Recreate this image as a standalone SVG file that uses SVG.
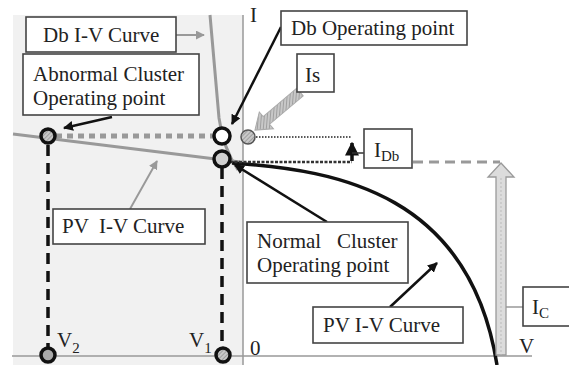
<svg xmlns="http://www.w3.org/2000/svg" width="569" height="365" viewBox="0 0 569 365">
<defs>
<pattern id="hatch" patternUnits="userSpaceOnUse" width="3" height="3" patternTransform="rotate(45)">
<rect width="3" height="3" fill="#c8c8c8"/>
<line x1="0" y1="0" x2="0" y2="3" stroke="#777" stroke-width="1"/>
</pattern>
<marker id="ah" viewBox="0 0 10 10" refX="9" refY="5" markerWidth="4" markerHeight="4" orient="auto" markerUnits="strokeWidth">
<path d="M0,0 L10,5 L0,10 z" fill="#111"/>
</marker>
<marker id="ahg" viewBox="0 0 10 10" refX="9" refY="5" markerWidth="4.5" markerHeight="4.5" orient="auto" markerUnits="strokeWidth">
<path d="M0,0 L10,5 L0,10 z" fill="#999"/>
</marker>
</defs>
<style>
text{font-family:"Liberation Serif","Times New Roman",serif;font-size:21px;fill:#222}
.box{fill:#fff;stroke:#444;stroke-width:1.6}
.lbl{fill:none;stroke:#111;stroke-width:2.5}
.gl{fill:none;stroke:#999;stroke-width:2}
.vd{fill:none;stroke:#111;stroke-width:3.5;stroke-dasharray:11,7}
</style>
<rect x="0" y="0" width="569" height="365" fill="#fff"/>
<rect x="13" y="15" width="230" height="350" fill="#f1f1f1"/>
<g id="axes">
<line x1="243" y1="15" x2="243" y2="365" stroke="#999" stroke-width="1.5"/>
<line x1="12" y1="356" x2="532" y2="356" stroke="#999" stroke-width="1.5"/>
<text x="250" y="22">I</text>
<text x="250" y="355">0</text>
<text x="519" y="353">V</text>
<text x="57" y="347">V<tspan font-size="15" dy="6">2</tspan></text>
<text x="189" y="347">V<tspan font-size="15" dy="6">1</tspan></text>
</g>
<g id="connectors">
<path d="M210,15 L219,118 Q223,148 238,170" stroke="#999" stroke-width="3" fill="none"/>
<line x1="13" y1="134" x2="240" y2="162" stroke="#999" stroke-width="3"/>
<path d="M232,163 C340,170 470,195 497,365" stroke="#111" stroke-width="3.5" fill="none"/>
<line x1="56" y1="136" x2="214" y2="136" stroke="#999" stroke-width="5" stroke-dasharray="6,5"/>
<line x1="48" y1="145" x2="48" y2="348" class="vd"/>
<line x1="222" y1="168" x2="222" y2="348" class="vd"/>
<line x1="256" y1="137" x2="352" y2="137" stroke="#222" stroke-width="1.5" stroke-dasharray="1.5,1.5"/>
<line x1="230" y1="162" x2="352" y2="162" stroke="#333" stroke-width="2.5" stroke-dasharray="3,1.5"/>
<line x1="413" y1="162" x2="500" y2="162" stroke="#999" stroke-width="3" stroke-dasharray="10,6"/>
<line x1="352" y1="161" x2="352" y2="143" stroke="#111" stroke-width="3.5" marker-end="url(#ah)"/>
<line x1="352" y1="153" x2="364" y2="153" stroke="#333" stroke-width="1.5"/>
<path d="M496,355 L496,177 L488,177 L501,163 L514,177 L506,177 L506,355 Z" fill="#dcdcdc" stroke="#9a9a9a" stroke-width="1.3"/>
<line x1="501" y1="178" x2="501" y2="355" stroke="#bbb" stroke-width="1" stroke-dasharray="2,2"/>
<line x1="506" y1="307" x2="523" y2="307" stroke="#999" stroke-width="1.5"/>
<g transform="translate(300,92) rotate(139.8)">
<polygon points="0,-5 44,-5 44,-11 59,0 44,11 44,5 0,5" fill="url(#hatch)" stroke="#aaa" stroke-width="1"/>
</g>
<line x1="176" y1="35" x2="204" y2="35" class="gl" marker-end="url(#ahg)"/>
<line x1="112" y1="117" x2="64" y2="128" class="lbl" marker-end="url(#ah)"/>
<line x1="281" y1="27" x2="232" y2="124" class="lbl" marker-end="url(#ah)"/>
<line x1="130" y1="209" x2="157" y2="161" class="gl" marker-end="url(#ahg)"/>
<line x1="327" y1="222" x2="235" y2="165" class="lbl" marker-end="url(#ah)"/>
<line x1="390" y1="307" x2="437" y2="263" class="lbl" marker-end="url(#ah)"/>
</g>
<g id="abnormal-point"><circle cx="48" cy="136" r="7" fill="url(#hatch)" stroke="#111" stroke-width="3.5"/></g>
<g id="db-op-point"><circle cx="222" cy="136" r="8" fill="#fff" stroke="#111" stroke-width="3.5"/></g>
<g id="normal-point"><circle cx="222" cy="159" r="8" fill="#d0d0d0" stroke="#111" stroke-width="3.5"/></g>
<g id="is-point"><circle cx="248" cy="137" r="7" fill="url(#hatch)" stroke="#555" stroke-width="1.5"/></g>
<g id="v2-point"><circle cx="48" cy="355" r="7" fill="#aaa" stroke="#111" stroke-width="3.5"/></g>
<g id="v1-point"><circle cx="223" cy="355" r="7" fill="url(#hatch)" stroke="#111" stroke-width="3.5"/></g>
<g id="db-iv-label"><rect x="26" y="17" width="150" height="35" class="box"/><text x="43" y="42">Db I-V Curve</text></g>
<g id="abnormal-label"><rect x="23" y="54" width="176" height="61" class="box"/><text x="33" y="81">Abnormal Cluster</text><text x="33" y="105">Operating point</text></g>
<g id="db-op-label"><rect x="281" y="11" width="186" height="34" class="box"/><text x="291" y="35">Db Operating point</text></g>
<g id="is-label"><rect x="297" y="54" width="37" height="38" class="box"/><text x="305" y="82">Is</text></g>
<g id="idb-label"><rect x="364" y="129" width="48" height="39" class="box"/><text x="374" y="157">I<tspan font-size="15" dy="4">Db</tspan></text></g>
<g id="pv-left-label"><rect x="53" y="209" width="152" height="35" class="box"/><text x="62" y="233" xml:space="preserve">PV  I-V Curve</text></g>
<g id="normal-label"><rect x="247" y="222" width="161" height="61" class="box"/><text x="257" y="248" xml:space="preserve">Normal   Cluster</text><text x="257" y="272">Operating point</text></g>
<g id="pv-right-label"><rect x="313" y="307" width="150" height="36" class="box"/><text x="323" y="332">PV I-V Curve</text></g>
<g id="ic-label"><rect x="523" y="287" width="50" height="39" class="box"/><text x="532" y="314">I<tspan font-size="15" dy="4">C</tspan></text></g>
</svg>
